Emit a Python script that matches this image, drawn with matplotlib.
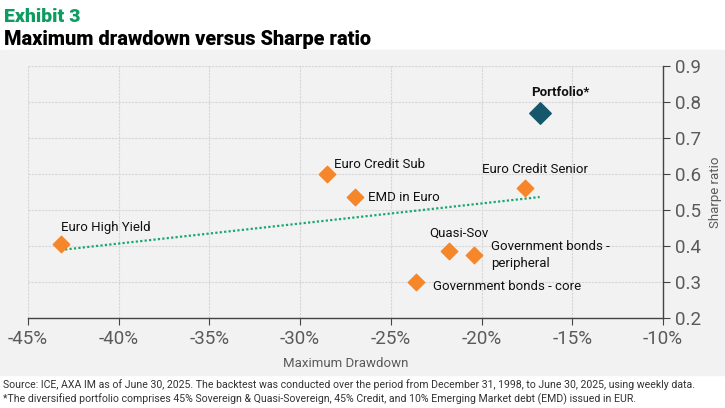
import matplotlib
matplotlib.use("Agg")
import matplotlib.pyplot as plt
from matplotlib.patches import Rectangle
from matplotlib.ticker import FuncFormatter

# data
names = ["Euro High Yield", "Euro Credit Sub", "EMD in Euro", "Euro Credit Senior",
         "Quasi-Sov", "Government bonds -\nperipheral", "Government bonds - core"]
drawdown = [-43.2, -28.5, -27.0, -17.6, -21.8, -20.4, -23.6]
sharpe = [0.405, 0.600, 0.536, 0.561, 0.386, 0.375, 0.300]
port_dd = -16.8
port_sharpe = 0.770
trend_x = [-43.2, -16.8]
trend_y = [0.389, 0.536]
xticks = [-45, -40, -35, -30, -25, -20, -15, -10]
yticks = [0.2, 0.3, 0.4, 0.5, 0.6, 0.7, 0.8, 0.9]

# label offsets in points (dx, dy, ha, va)
offsets = [(0, 7, "left", "bottom"), (5, 2, "left", "bottom"), (10, 0, "left", "center"),
           (-31, 9, "left", "bottom"), (-14, 8, "left", "bottom"),
           (12, 0, "left", "center"), (12, -3, "left", "center")]

orange = "#f5862a"
teal = "#16576b"
green = "#1aa86f"
gray_txt = "#5a5a5a"
panel = "#f2f2f2"

plt.rcParams["font.family"] = ["Roboto", "DejaVu Sans"]

fig = plt.figure(figsize=(7.25, 4.08), dpi=100)
fig.patches.append(Rectangle((0, 1 - 375 / 408), 1, (375 - 50) / 408,
                             transform=fig.transFigure, color=panel, zorder=-5))

fig.text(0.006, 0.958, "Exhibit 3", color="#0e9b62", fontsize=14, fontweight="heavy", va="center")
fig.text(0.006, 0.903, "Maximum drawdown versus Sharpe ratio", color="black",
         fontsize=14.3, fontweight="heavy", va="center")

ax = fig.add_axes([28 / 725, 1 - 318 / 408, (663 - 28) / 725, (318 - 66) / 408])
ax.set_zorder(1)
ax.set_facecolor(panel)

ax.plot(trend_x, trend_y, linestyle=(0, (1, 1)), color=green, lw=1.6, zorder=2)
ax.scatter(drawdown, sharpe, marker="D", s=70, color=orange, zorder=3)
ax.scatter([port_dd], [port_sharpe], marker="D", s=120, color=teal, zorder=3)

for n, x, y, (dx, dy, ha, va) in zip(names, drawdown, sharpe, offsets):
    ax.annotate(n, (x, y), xytext=(dx, dy), textcoords="offset points",
                ha=ha, va=va, fontsize=9.5, color="#111111", linespacing=1.3)
ax.annotate("Portfolio*", (port_dd, port_sharpe), xytext=(-6, 10), textcoords="offset points",
            ha="left", va="bottom", fontsize=9.5, fontweight="bold", color="#111111")

ax.set_xlim(-45, -10)
ax.set_ylim(0.2, 0.9)
ax.set_xticks(xticks)
ax.set_yticks(yticks)
ax.xaxis.set_major_formatter(FuncFormatter(lambda v, p: "%d%%" % v))
ax.yaxis.set_major_formatter(FuncFormatter(lambda v, p: "%.1f" % v))
ax.yaxis.tick_right()
ax.yaxis.set_label_position("right")
ax.tick_params(axis="both", colors="#444444", labelcolor=gray_txt, labelsize=13.5, length=5)
ax.tick_params(axis="x", pad=4)
ax.tick_params(axis="y", pad=4)

ax.grid(True, color="#d6d6d6", linestyle=(0, (2, 1)), lw=0.8)
ax.set_axisbelow(True)
for s in ["top", "left"]:
    ax.spines[s].set_visible(False)
for s in ["bottom", "right"]:
    ax.spines[s].set_color("#444444")
    ax.spines[s].set_linewidth(1.0)

ax.set_xlabel("Maximum Drawdown", fontsize=9.5, color=gray_txt, labelpad=6)
ax.set_ylabel("Sharpe ratio", fontsize=9.5, color=gray_txt, labelpad=5)

fig.text(0.004, 1 - 385 / 408, "Source: ICE, AXA IM as of June 30, 2025. The backtest was conducted over the period from December 31, 1998, to June 30, 2025, using weekly data.",
         fontsize=7.6, color="#333333", va="center")
fig.text(0.004, 1 - 399 / 408, "*The diversified portfolio comprises 45% Sovereign & Quasi-Sovereign, 45% Credit, and 10% Emerging Market debt (EMD) issued in EUR.",
         fontsize=7.6, color="#333333", va="center")

fig.savefig("out.png", dpi=100, facecolor="white")
